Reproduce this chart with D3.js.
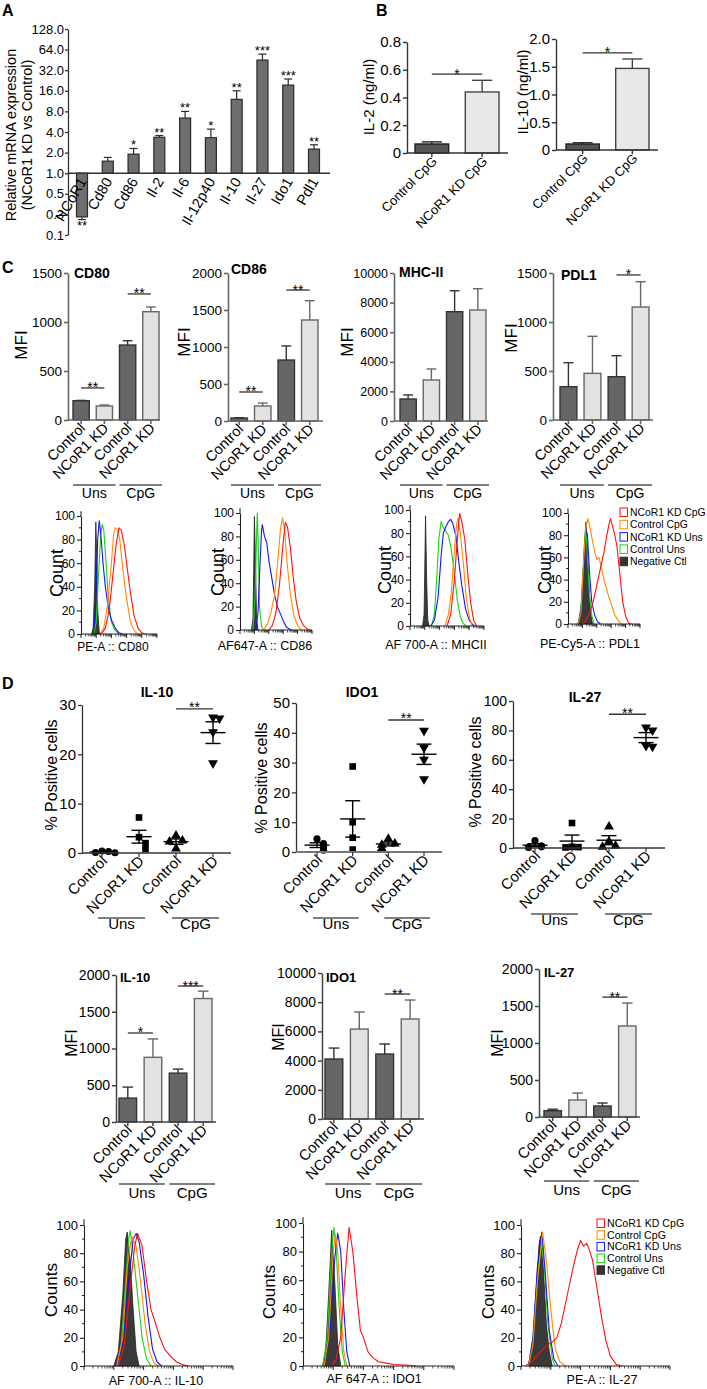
<!DOCTYPE html>
<html><head><meta charset="utf-8">
<script src="https://cdn.jsdelivr.net/npm/d3@7/dist/d3.min.js"></script>
<style>html,body{margin:0;padding:0;background:#fff;}</style>
</head><body><div id="chart"></div>
<script>
// ================= DATA =================
// Panel A
const aGenes=["NCoR1","Cd80","Cd86","Il-2","Il-6","Il-12p40","Il-10","Il-27","Ido1","Pdl1"];
const aFold=[0.23,1.5,1.9,3.35,6.4,3.3,12,45,19.4,2.25];
const aFoldErr=[0.21,1.7,2.3,3.55,8.0,4.4,16,55,23.8,2.6];
const aStars=["**","","*","**","**","*","**","***","***","**"];
const aTicks=[0.125,0.25,0.5,1,2,4,8,16,32,64,128];
const aTickLabels=["0.1","0.3","0.5","1.0","2.0","4.0","8.0","16.0","32.0","64.0","128.0"];
// Panel B
const bLabels=["Control CpG","NCoR1 KD CpG"];
const il2Conc=[0.065,0.44], il2ConcErr=[0.08,0.524];
const il10Conc=[0.108,1.47], il10ConcErr=[0.13,1.64];
const il2Ticks=[0,0.2,0.4,0.6,0.8], il2TickLabels=["0","0.2","0.4","0.6","0.8"];
const il10Ticks=[0,0.5,1,1.5,2], il10TickLabels=["0","0.5","1.0","1.5","2.0"];
// Panel C (MFI)
const condLabels=["Control","NCoR1 KD","Control","NCoR1 KD"];
const stimGroups=["Uns","CpG"];
const cd80Mfi=[197,143,765,1105], cd80MfiErr=[200,153,809,1153];
const cd86Mfi=[40,203,824,1365], cd86MfiErr=[45,243,1014,1626];
const mhc2Mfi=[1486,2770,7385,7500], mhc2MfiErr=[1757,3514,8800,8940];
const pdl1Mfi=[340,476,442,1153], pdl1MfiErr=[585,854,656,1411];
const ticks1500=[0,500,1000,1500], ticks2000=[0,500,1000,1500,2000], ticks10000=[0,2000,4000,6000,8000,10000];
// Legend
const legendLabels=["NCoR1 KD CpG","Control CpG","NCoR1 KD Uns","Control Uns","Negative Ctl"];
// Histograms: [channel (0-100 of axis), % of max]
const histCD80={
 neg:[[14,0],[16,5],[18,40],[19.5,95],[21,60],[22,20],[24,2],[26,0]],
 ctrlUns:[[17,0],[20,10],[23,50],[26,85],[28,93],[30,88],[33,60],[36,30],[40,10],[45,3],[50,0]],
 kdUns:[[16,0],[19,20],[22,80],[24,96],[26,85],[29,60],[32,40],[36,22],[40,12],[45,5],[50,1],[55,0]],
 ctrlCpG:[[25,0],[30,5],[35,25],[40,60],[43,85],[45,90],[48,88],[51,80],[55,55],[60,30],[65,10],[70,3],[74,0]],
 kdCpG:[[27,0],[32,5],[37,20],[42,50],[46,75],[50,90],[53,88],[57,75],[61,55],[65,35],[70,15],[75,5],[80,1],[85,0]]};
const histCD86={
 neg:[[16,0],[18,10],[19,50],[20,97],[21.5,60],[23,10],[25,0]],
 ctrlUns:[[18,0],[21,30],[23,80],[24,100],[25.5,70],[27,20],[30,3],[33,0]],
 kdUns:[[22,0],[25,15],[28,60],[30,85],[31,90],[34,80],[37,75],[40,60],[44,45],[48,30],[52,20],[56,14],[60,8],[64,3],[68,1],[72,0]],
 ctrlCpG:[[33,0],[38,5],[43,15],[48,30],[52,55],[56,85],[59,96],[62,85],[65,60],[70,30],[75,12],[80,4],[85,0]],
 kdCpG:[[40,0],[45,4],[50,15],[55,40],[60,75],[63,92],[66,88],[70,70],[74,45],[78,25],[83,10],[88,4],[93,1],[97,0]]};
const histMHC2={
 neg:[[17,0],[19,10],[20,50],[21,95],[22.5,40],[24,5],[26,0]],
 ctrlUns:[[29,0],[33,10],[36,40],[39,75],[42,90],[45,85],[48,82],[52,78],[56,65],[60,45],[64,22],[68,8],[72,2],[76,0]],
 kdUns:[[28,0],[33,5],[38,25],[42,60],[45,80],[48,85],[52,90],[55,92],[58,88],[62,78],[66,55],[70,35],[75,15],[80,5],[85,1],[88,0]],
 ctrlCpG:[[47,0],[52,10],[56,30],[60,65],[63,88],[65,93],[68,80],[72,55],[76,25],[80,8],[84,0]],
 kdCpG:[[50,0],[55,10],[60,40],[64,75],[67,97],[70,90],[74,75],[78,45],[82,20],[86,5],[90,0]]};
const histPDL1={
 neg:[[14,0],[18,10],[21,40],[23,75],[25,92],[27,70],[29,35],[31,12],[34,0]],
 ctrlUns:[[14,0],[18,15],[21,50],[24,82],[25,85],[27,60],[30,25],[33,8],[36,0]],
 kdUns:[[14,0],[18,12],[22,55],[25,85],[27,80],[30,45],[33,20],[37,8],[41,2],[45,0]],
 ctrlCpG:[[14,0],[18,10],[22,60],[25,88],[28,95],[31,85],[34,75],[37,65],[40,58],[43,60],[46,52],[50,40],[55,28],[60,18],[65,8],[70,3],[74,0]],
 kdCpG:[[20,0],[25,3],[30,10],[35,20],[40,35],[45,50],[50,65],[54,80],[57,90],[59,95],[62,88],[65,80],[68,70],[72,45],[76,20],[80,7],[84,1],[88,0]]};
const histIL10={
 neg:[[20,0],[23,10],[26,50],[28,90],[29,95],[31,75],[33,40],[35,10],[37,0]],
 ctrlUns:[[22,0],[25,15],[28,60],[30,90],[31,96],[33,80],[36,50],[39,20],[42,5],[45,0]],
 kdUns:[[22,0],[26,15],[30,60],[33,90],[35,94],[37,88],[40,65],[43,35],[46,12],[49,3],[52,0]],
 ctrlCpG:[[22,0],[26,20],[29,70],[32,92],[35,85],[38,60],[41,30],[44,10],[47,2],[50,0]],
 kdCpG:[[23,0],[27,15],[31,55],[34,85],[36,94],[39,85],[42,60],[45,40],[48,30],[51,20],[54,12],[58,7],[62,3],[66,1],[70,0]]};
const histIDO1={
 neg:[[13,0],[15,10],[17,50],[19,95],[21,60],[23,15],[25,0]],
 ctrlUns:[[13,0],[16,20],[19,80],[20.5,97],[22,80],[24,40],[26,10],[28,0]],
 kdUns:[[14,0],[18,25],[21,75],[23,93],[25,80],[27,40],[29,10],[31,0]],
 ctrlCpG:[[14,0],[17,20],[20,80],[21.5,92],[23,80],[25,40],[27,10],[29,0]],
 kdCpG:[[19,0],[22,5],[25,20],[28,65],[30.5,97],[33,80],[36,45],[38,25],[40,20],[43,10],[46,6],[50,3],[55,2],[60,1],[70,0.5],[75,0]]};
const histIL27={
 neg:[[5,0],[8,15],[10,50],[12,85],[13,92],[15,70],[17,30],[19,10],[21,0]],
 ctrlUns:[[5,0],[8,20],[11,65],[14,88],[16,65],[18,30],[21,5],[23,0]],
 kdUns:[[5,0],[8,20],[11,70],[14,95],[16,70],[19,25],[22,5],[25,0]],
 ctrlCpG:[[5,0],[8,15],[11,60],[14.5,95],[17,75],[20,40],[23,12],[26,3],[30,0]],
 kdCpG:[[3,0],[8,4],[13,10],[18,15],[21,17],[24,20],[27,30],[31,50],[35,70],[38,83],[40,89],[42,85],[44,87],[46,82],[48,75],[51,55],[54,35],[57,18],[60,7],[64,1],[68,0]]};
// Panel D scatter (% positive cells)
const pctIL10=[[0.4,0.3,0.1,0.05],[7.2,3.2,2.0,0.8],[3.5,2.5,2.3,0.9],[27.5,27.3,24.5,18.2]];
const pctIL10Mean=[0.2,3.3,2.3,24.4], pctIL10Sem=[0.1,1.3,0.55,2.2];
const pctIDO1=[[4.4,2.8,1.5,0.6],[28.7,10,4.8,0.8],[4.4,2.8,2.4,1.2],[40.7,35,31,24.5]];
const pctIDO1Mean=[2.3,11.1,2.7,32.8], pctIDO1Sem=[0.8,6.1,0.65,3.4];
const pctIL27=[[5,1.5,0.8,0.4],[17,0.8,0.6,0.4],[14.5,4.5,1.5,0.8],[82,80,69.5,69]];
const pctIL27Mean=[1.9,4.7,5.3,75.1], pctIL27Sem=[1.0,4.1,3.1,3.4];
// Panel D MFI
const il10Mfi=[325,880,665,1680], il10MfiErr=[475,1130,720,1780];
const ido1Mfi=[4110,6160,4450,6850], ido1MfiErr=[4860,7330,5140,8150];
const il27Mfi=[85,230,149,1230], il27MfiErr=[105,324,189,1540];

// ================= DRAWING =================
const F='"Liberation Sans", Arial, Helvetica, sans-serif';
const svg=d3.select("#chart").append("svg").attr("width",707).attr("height",1389).style("display","block");
svg.append("rect").attr("width",707).attr("height",1389).attr("fill","#fff");

function T(g,x,y,s,o={}){
  const t=g.append("text").text(s).attr("font-family",F).attr("font-size",o.fs||14)
    .attr("fill",o.fill||"#000").attr("text-anchor",o.anchor||"start");
  if(o.bold) t.attr("font-weight","bold");
  if(o.italic) t.attr("font-style","italic");
  if(o.rot!==undefined) t.attr("transform",`translate(${x},${y}) rotate(${o.rot})`);
  else t.attr("x",x).attr("y",y);
  return t;
}
function hline(g,x1,x2,y,c,w){g.append("line").attr("x1",x1).attr("x2",x2).attr("y1",y).attr("y2",y).attr("stroke",c).attr("stroke-width",w);}
function vline(g,x,y1,y2,c,w){g.append("line").attr("x1",x).attr("x2",x).attr("y1",y1).attr("y2",y2).attr("stroke",c).attr("stroke-width",w);}
function yAxis(g,scale,x,ticks,labels,o){
  const a=g.append("g").attr("transform",`translate(${x},0)`)
    .call(d3.axisLeft(scale).tickValues(ticks).tickFormat((d,i)=>labels?labels[i]:d).tickSize(o.ts||4).tickSizeOuter(0).tickPadding(o.tp===undefined?2:o.tp));
  a.attr("font-family",F).attr("font-size",o.fs||14);
  a.selectAll("path,line").attr("stroke",o.color||"#333").attr("stroke-width",o.sw||1.3);
  a.selectAll("text").attr("fill","#000");
  return a;
}

// Panel letters
T(svg,2,16,"A",{fs:16,bold:true});
T(svg,376,16,"B",{fs:16,bold:true});
T(svg,2,273,"C",{fs:16,bold:true});
T(svg,2,689,"D",{fs:16,bold:true});

// ---------- Panel A ----------
(function(){
  const g=svg.append("g");
  const y=d3.scaleLog().base(2).domain([0.125,128]).range([235,29]);
  const x=d3.scalePoint().domain(aGenes).range([82,314]);
  const bw=11, base=y(1);
  aGenes.forEach((k,i)=>{
    const v=aFold[i], e=aFoldErr[i], cx=x(k);
    g.append("rect").attr("x",cx-bw/2).attr("y",Math.min(y(v),base)).attr("width",bw)
      .attr("height",Math.abs(base-y(v))).attr("fill","#6e6e6e").attr("stroke","#2a2a2a").attr("stroke-width",1.2);
    vline(g,cx,y(v),y(e),"#2a2a2a",1.2); hline(g,cx-4,cx+4,y(e),"#2a2a2a",1.2);
    if(aStars[i]){
      if(v>=1) T(g,cx,y(e)+1,aStars[i],{fs:13,anchor:"middle"});
      else T(g,cx,y(v)+13,aStars[i],{fs:13,anchor:"middle"});
    }
    T(g,cx+5,base+8,k,{fs:14.5,anchor:"end",rot:-60});
  });
  yAxis(g,y,68,aTicks,aTickLabels,{fs:13,ts:3,tp:1,color:"#333",sw:1.3});
  hline(g,68,330,base,"#333",1.6);
  T(g,16,135,"Relative mRNA expression",{fs:14.5,anchor:"middle",rot:-90});
  T(g,32,135,"(NCoR1 KD vs Control)",{fs:14.5,anchor:"middle",rot:-90});
})();

// ---------- generic bar chart ----------
function barChart(c){
  const g=svg.append("g");
  const y=d3.scaleLinear().domain([0,c.max]).range([c.y0,c.yTop]);
  const x=d3.scaleBand().domain(d3.range(c.values.length)).range(c.barRange).paddingInner(c.pad);
  const bw=x.bandwidth(), cx=i=>x(i)+bw/2;
  const fills=c.fills||["#666","#e2e2e2","#666","#e2e2e2"];
  const strokes=c.strokes||["#333","#666","#333","#666"];
  g.selectAll("rect.bar").data(c.values).join("rect").attr("class","bar")
    .attr("x",(d,i)=>x(i)).attr("y",d=>y(d)).attr("width",bw).attr("height",d=>c.y0-y(d))
    .attr("fill",(d,i)=>fills[i]).attr("stroke",(d,i)=>strokes[i]).attr("stroke-width",1.4);
  c.errs.forEach((e,i)=>{vline(g,cx(i),y(c.values[i]),y(e),strokes[i],1.4);hline(g,cx(i)-bw*0.3,cx(i)+bw*0.3,y(e),strokes[i],1.4);});
  yAxis(g,y,c.ax,c.ticks,c.tickLabels,{fs:c.tfs,color:c.axc,sw:c.axw});
  hline(g,c.ax,c.axEnd,c.y0,c.axc,c.axw);
  c.values.forEach((d,i)=>vline(g,cx(i),c.y0,c.y0+4,c.axc,c.axw));
  c.labels.forEach((l,i)=>T(g,cx(i)+c.ldx,c.y0+c.ldy,l,{fs:c.lfs,anchor:"end",rot:c.rot,italic:c.italic}));
  (c.sig||[]).forEach(s=>{const yy=y(s.v);hline(g,cx(s.a),cx(s.b),yy,"#333",1.3);
    T(g,(cx(s.a)+cx(s.b))/2,yy+c.sfs*0.32,s.t,{fs:c.sfs,anchor:"middle"});});
  if(c.gy){[[0,1],[2,3]].forEach((p,k)=>{const x1=x(p[0]),x2=x(p[1])+bw+3;hline(g,x1,x2,c.gy,"#555",1.5);
    T(g,(x1+x2)/2,c.gy+c.gty,stimGroups[k],{fs:c.gfs,anchor:"middle"});});}
  if(c.title) T(g,c.title.x,c.title.y,c.title.t,{fs:c.title.fs,bold:true});
  if(c.ylab) T(g,c.ylab.x,c.ylab.y,c.ylab.t,{fs:c.ylab.fs,anchor:"middle",rot:-90});
}

// ---------- Panel B ----------
const bCommon={fills:["#555","#e8e8e8"],strokes:["#222","#444"],labels:bLabels,rot:-45,lfs:13,ldx:6,ldy:9,sfs:14,tfs:15,axc:"#333",axw:1.4,pad:0.33};
barChart(Object.assign({},bCommon,{ax:407,axEnd:508,y0:153,yTop:42,max:0.8,ticks:il2Ticks,tickLabels:il2TickLabels,
  values:il2Conc,errs:il2ConcErr,barRange:[415,499],sig:[{a:0,b:1,v:0.569,t:"*"}],ylab:{t:"IL-2 (ng/ml)",x:374,y:97,fs:15}}));
barChart(Object.assign({},bCommon,{ax:556,axEnd:658,y0:150,yTop:39,max:2,ticks:il10Ticks,tickLabels:il10TickLabels,
  values:il10Conc,errs:il10ConcErr,barRange:[566,649],sig:[{a:0,b:1,v:1.75,t:"*"}],ylab:{t:"IL-10 (ng/ml)",x:528,y:92,fs:15}}));

// ---------- Panel C bars ----------
const cCommon={labels:condLabels,rot:-45,lfs:14.5,ldx:5,ldy:9,sfs:14,tfs:13.5,axc:"#666",axw:1.6,pad:0.3,gy:485,gty:13,gfs:14};
barChart(Object.assign({},cCommon,{ax:68,axEnd:160,y0:420,yTop:273,max:1500,ticks:ticks1500,tickLabels:ticks1500,
  values:cd80Mfi,errs:cd80MfiErr,barRange:[73,159],sig:[{a:0,b:1,v:327,t:"**"},{a:2,b:3,v:1286,t:"**"}],
  title:{t:"CD80",x:74,y:278,fs:14},ylab:{t:"MFI",x:27,y:345,fs:17}}));
barChart(Object.assign({},cCommon,{ax:228,axEnd:323,y0:421,yTop:273,max:2000,ticks:ticks2000,tickLabels:ticks2000,
  values:cd86Mfi,errs:cd86MfiErr,barRange:[231,318],sig:[{a:0,b:1,v:392,t:"**"},{a:2,b:3,v:1770,t:"**"}],
  title:{t:"CD86",x:231,y:274,fs:14},ylab:{t:"MFI",x:190,y:342,fs:17}}));
barChart(Object.assign({},cCommon,{ax:394,axEnd:488,y0:421,yTop:273,max:10000,ticks:ticks10000,tickLabels:ticks10000,tfs:12.5,
  values:mhc2Mfi,errs:mhc2MfiErr,barRange:[400,486],sig:[],
  title:{t:"MHC-II",x:399,y:277,fs:14},ylab:{t:"MFI",x:353,y:342,fs:17}}));
barChart(Object.assign({},cCommon,{ax:553,axEnd:653,y0:420,yTop:273,max:1500,ticks:ticks1500,tickLabels:ticks1500,
  values:pdl1Mfi,errs:pdl1MfiErr,barRange:[560,649],sig:[{a:2,b:3,v:1480,t:"*"}],
  title:{t:"PDL1",x:561,y:280,fs:14},ylab:{t:"MFI",x:517,y:338,fs:17}}));

// ---------- Histograms ----------
const histColors={ctrlUns:"#19d219",kdUns:"#1515f0",ctrlCpG:"#ff8c00",kdCpG:"#ff1010"};
const histOrder=["ctrlUns","kdUns","ctrlCpG","kdCpG"];
const histYTicks=[0,20,40,60,80,100], histYMinor=[10,30,50,70,90];
const histDecades=[0,20,40,60,80];
function histo(c){
  const g=svg.append("g");
  const x=d3.scaleLinear().domain([0,100]).range([c.ax,c.axEnd]);
  const y=d3.scaleLinear().domain([0,100]).range([c.y0,c.y100]);
  const line=d3.line().x(d=>x(d[0])).y(d=>y(d[1]));
  const area=d3.area().x(d=>x(d[0])).y0(y(0)).y1(d=>y(d[1]));
  g.append("path").attr("d",area(c.data.neg)).attr("fill","#3a3a3a").attr("stroke","#222").attr("stroke-width",0.8);
  histOrder.forEach(k=>g.append("path").attr("d",line(c.data[k])).attr("fill","none")
    .attr("stroke",histColors[k]).attr("stroke-width",1.1).attr("stroke-linejoin","round"));
  yAxis(g,y,c.ax,histYTicks,null,{fs:c.tfs,ts:4,tp:2,color:"#222",sw:1.1});
  vline(g,c.ax,y(100),y(104),"#222",1.1);
  histYMinor.forEach(v=>hline(g,c.ax-2,c.ax,y(v),"#222",1));
  hline(g,c.ax,c.axEnd,c.y0,"#222",1.1);
  histDecades.forEach(d=>{vline(g,x(d),c.y0,c.y0+4,"#222",1);
    d3.range(2,10).forEach(k=>vline(g,x(d+20*Math.log10(k)),c.y0,c.y0+2.5,"#222",0.8));});
  vline(g,x(100),c.y0,c.y0+4,"#222",1);
  T(g,c.ylab.x,c.ylab.y,c.ylab.t,{fs:c.ylab.fs,anchor:"middle",rot:-90});
  T(g,c.xlab.x,c.xlab.y,c.xlab.t,{fs:c.xlab.fs,anchor:"middle"});
  if(c.legend){
    legendLabels.forEach((l,i)=>{
      const ly=c.legend.y+i*c.legend.dy, key=["kdCpG","ctrlCpG","kdUns","ctrlUns","neg"][i];
      g.append("rect").attr("x",c.legend.x).attr("y",ly-8).attr("width",7.5).attr("height",8.5)
        .attr("fill",key==="neg"?"#333":"none").attr("stroke",key==="neg"?"#333":histColors[key]).attr("stroke-width",1);
      T(g,c.legend.x+10,ly,l,{fs:c.legend.fs});
    });
  }
}
histo({data:histCD80,ax:81,axEnd:157,y0:634,y100:516,tfs:12,ylab:{t:"Count",x:63,y:573,fs:18},xlab:{t:"PE-A :: CD80",x:113,y:651,fs:12}});
histo({data:histCD86,ax:240,axEnd:312,y0:630,y100:513,tfs:12,ylab:{t:"Count",x:224,y:572,fs:18},xlab:{t:"AF647-A :: CD86",x:265,y:650,fs:12.5}});
histo({data:histMHC2,ax:410,axEnd:484,y0:626,y100:510,tfs:12,ylab:{t:"Count",x:391,y:570,fs:18},xlab:{t:"AF 700-A :: MHCII",x:436,y:649,fs:12.5}});
histo({data:histPDL1,ax:568,axEnd:640,y0:624,y100:513,tfs:12,ylab:{t:"Count",x:551,y:570,fs:18},xlab:{t:"PE-Cy5-A :: PDL1",x:590,y:648,fs:12.5},
  legend:{x:620,y:516,dy:12.3,fs:10.4}});
histo({data:histIL10,ax:84,axEnd:233,y0:1366,y100:1225,tfs:13,ylab:{t:"Counts",x:57,y:1290,fs:17},xlab:{t:"AF 700-A :: IL-10",x:156,y:1385,fs:12.5}});
histo({data:histIDO1,ax:303,axEnd:454,y0:1366,y100:1223,tfs:13,ylab:{t:"Counts",x:275,y:1292,fs:17},xlab:{t:"AF 647-A :: IDO1",x:374,y:1383,fs:12.5}});
histo({data:histIL27,ax:521,axEnd:670,y0:1366,y100:1225,tfs:13,ylab:{t:"Counts",x:494,y:1292,fs:17},xlab:{t:"PE-A :: IL-27",x:602,y:1384,fs:12.5},
  legend:{x:597,y:1227,dy:11.7,fs:10.6}});

// ---------- Panel D scatter ----------
const shapes=[d3.symbolCircle,d3.symbolSquare,d3.symbolTriangle,d3.symbolTriangle];
const shapeSize=[40,44,42,42], shapeRot=[0,0,0,180];
function scatter(c){
  const g=svg.append("g");
  const y=d3.scaleLinear().domain([0,c.max]).range([c.y0,c.yTop]);
  const x=d3.scalePoint().domain(d3.range(4)).range(c.cx);
  c.pts.forEach((grp,i)=>{
    const cx=x(i), placed=[];
    grp.forEach(v=>{
      const py=y(v), n=placed.filter(p=>Math.abs(p-py)<6).length; placed.push(py);
      const off=[0,6.5,-6.5,13,-13][n];
      g.append("path").attr("d",d3.symbol(shapes[i],shapeSize[i])()).attr("fill","#000")
        .attr("transform",`translate(${cx+off},${py}) rotate(${shapeRot[i]})`);
    });
    const m=c.mean[i], s=c.sem[i];
    hline(g,cx-12.5,cx+12.5,y(m),"#000",1.4);
    vline(g,cx,y(Math.max(0,m-s)),y(m+s),"#000",1.4);
    hline(g,cx-7.5,cx+7.5,y(m+s),"#000",1.4);
    if(m-s>0) hline(g,cx-7.5,cx+7.5,y(m-s),"#000",1.4);
  });
  yAxis(g,y,c.ax,c.ticks,null,{fs:c.tfs||15,ts:4,tp:2,color:"#333",sw:1.3});
  hline(g,c.ax,c.axEnd,c.y0,c.axc||"#333",c.axw||1.4);
  d3.range(4).forEach(i=>vline(g,x(i),c.y0,c.y0+4,"#333",1.2));
  condLabels.forEach((l,i)=>T(g,x(i)+6,c.y0+9,l,{fs:15,anchor:"end",rot:-45}));
  [[0,1],[2,3]].forEach((p,k)=>{const x1=x(p[0])-4,x2=x(p[1])+6;hline(g,x1,x2,c.gy,"#555",1.5);
    T(g,(x1+x2)/2,c.gy+11,stimGroups[k],{fs:15,anchor:"middle"});});
  const yy=y(c.sig);hline(g,x(2),x(3),yy,"#333",1.3);T(g,(x(2)+x(3))/2,yy+3.5,"**",{fs:14,anchor:"middle"});
  T(g,c.title.x,c.title.y,c.title.t,{fs:14,bold:true,anchor:"middle"});
  T(g,c.ylab.x,c.ylab.y,"% Positive cells",{fs:16,anchor:"middle",rot:-90});
}
scatter({pts:pctIL10,mean:pctIL10Mean,sem:pctIL10Sem,max:30,ticks:[0,10,20,30],y0:853,yTop:705,ax:82,axEnd:231,cx:[102,213],gy:918,sig:29.2,
  title:{t:"IL-10",x:157,y:697},ylab:{x:57,y:775}});
scatter({pts:pctIDO1,mean:pctIDO1Mean,sem:pctIDO1Sem,max:50,ticks:[0,10,20,30,40,50],y0:852,yTop:703,ax:296,axEnd:442,cx:[317,424],gy:918,sig:44.3,
  axc:"#777",axw:2,title:{t:"IDO1",x:362,y:697},ylab:{x:267,y:778}});
scatter({pts:pctIL27,mean:pctIL27Mean,sem:pctIL27Sem,max:100,ticks:[0,20,40,60,80,100],y0:848,yTop:701,ax:513,axEnd:665,cx:[535,646],gy:914,sig:91,tfs:14,
  title:{t:"IL-27",x:585,y:702},ylab:{x:481,y:772}});

// ---------- Panel D MFI bars ----------
const dCommon={labels:condLabels,rot:-45,lfs:15,ldx:5,ldy:9,sfs:14,tfs:14,axc:"#444",axw:1.5,pad:0.3,gy:1184,gty:14,gfs:15};
barChart(Object.assign({},dCommon,{ax:116,axEnd:216,y0:1122,yTop:975,max:2000,ticks:ticks2000,tickLabels:ticks2000,
  values:il10Mfi,errs:il10MfiErr,barRange:[119,212],sig:[{a:0,b:1,v:1211,t:"*"},{a:2,b:3,v:1850,t:"***"}],
  title:{t:"IL-10",x:120,y:982,fs:13},ylab:{t:"MFI",x:77,y:1043,fs:16}}));
barChart(Object.assign({},dCommon,{ax:322,axEnd:424,y0:1119,yTop:973,max:10000,ticks:ticks10000,tickLabels:ticks10000,
  values:ido1Mfi,errs:ido1MfiErr,barRange:[325,419],sig:[{a:2,b:3,v:8560,t:"**"}],
  title:{t:"IDO1",x:326,y:982,fs:13},ylab:{t:"MFI",x:284,y:1037,fs:16}}));
barChart(Object.assign({},dCommon,{ax:539,axEnd:640,y0:1117,yTop:969,max:2000,ticks:ticks2000,tickLabels:ticks2000,gy:1181,
  values:il27Mfi,errs:il27MfiErr,barRange:[544,636],sig:[{a:2,b:3,v:1620,t:"**"}],
  title:{t:"IL-27",x:544,y:977,fs:13},ylab:{t:"MFI",x:503,y:1043,fs:16}}));
</script></body></html>
